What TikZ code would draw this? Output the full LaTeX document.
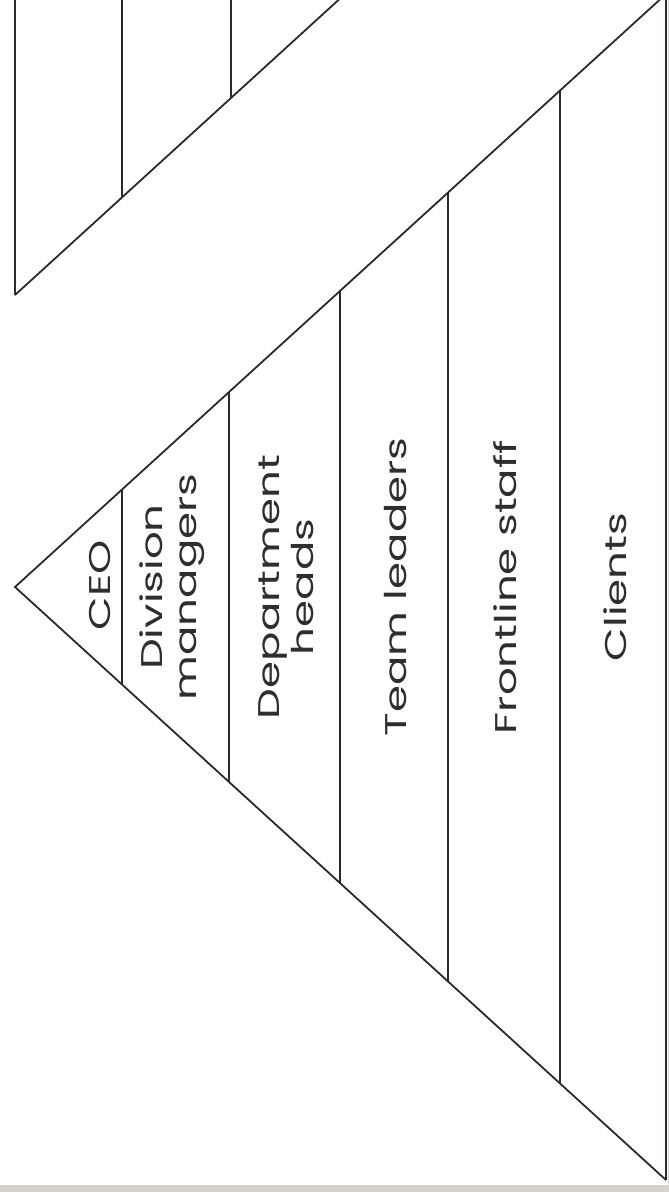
\documentclass[tikz,border=0pt]{standalone}
\usepackage{fontspec}
\setmainfont{Poppins}
\definecolor{inkline}{HTML}{2A2A2A}
\definecolor{inktext}{HTML}{2E2E2E}
\definecolor{bandgray}{HTML}{D6D3CD}
\begin{document}
\begin{tikzpicture}[x=1pt,y=-1pt,
  edge/.style={draw=inkline, line width=1.8pt, line join=miter},
  divider/.style={draw=inkline, line width=1.2pt},
  lbl/.style={rotate=90, xscale=1.45, align=center, inner sep=0pt,
    font=\fontsize{30}{34}\selectfont, text=inktext}]
\path[use as bounding box] (0,0) rectangle (669,1192);
\fill[bandgray] (0,1185) rectangle (669,1192);
\fill[bandgray] (667.5,0) rectangle (669,1185);
\begin{scope}
\clip (0,0) rectangle (667.5,1185);
% partial shape at top left
\coordinate (pA) at (15,295);
\coordinate (pTop) at (15,-2);
\coordinate (pEnd) at (345,-6);
\coordinate (p1t) at (122,-2);
\coordinate (p1b) at (122,197.5);
\coordinate (p2t) at (231,-2);
\coordinate (p2b) at (231,98.2);
\draw[divider] (pTop) -- (pA);
\draw[edge] (pA) -- (pEnd);
\draw[divider] (p1t) -- (p1b);
\draw[divider] (p2t) -- (p2b);
% main pyramid
\coordinate (apex) at (15,587);
\coordinate (topR) at (666,-6);
\coordinate (botR) at (666,1180);
\coordinate (t1) at (122,489.5);
\coordinate (b1) at (122,684.5);
\coordinate (t2) at (229,392);
\coordinate (b2) at (229,782);
\coordinate (t3) at (340,291);
\coordinate (b3) at (340,883);
\coordinate (t4) at (448,192.5);
\coordinate (b4) at (448,981.5);
\coordinate (t5) at (560,90.5);
\coordinate (b5) at (560,1083.5);
\draw[divider] (t1) -- (b1);
\draw[divider] (t2) -- (b2);
\draw[divider] (t3) -- (b3);
\draw[divider] (t4) -- (b4);
\draw[divider] (t5) -- (b5);
\draw[divider] (topR) -- (botR);
\draw[edge] (topR) -- (apex) -- (botR);
\end{scope}
\node[lbl] (ceo) at (100,585) {CEO};
\node[lbl] (div) at (172,587) {Division\\managers};
\node[lbl] (dep) at (286,587) {Department\\heads};
\node[lbl] (team) at (396,587) {Team leaders};
\node[lbl] (front) at (505,587) {Frontline staff};
\node[lbl] (cli) at (615,587) {Clients};
\end{tikzpicture}
\end{document}
